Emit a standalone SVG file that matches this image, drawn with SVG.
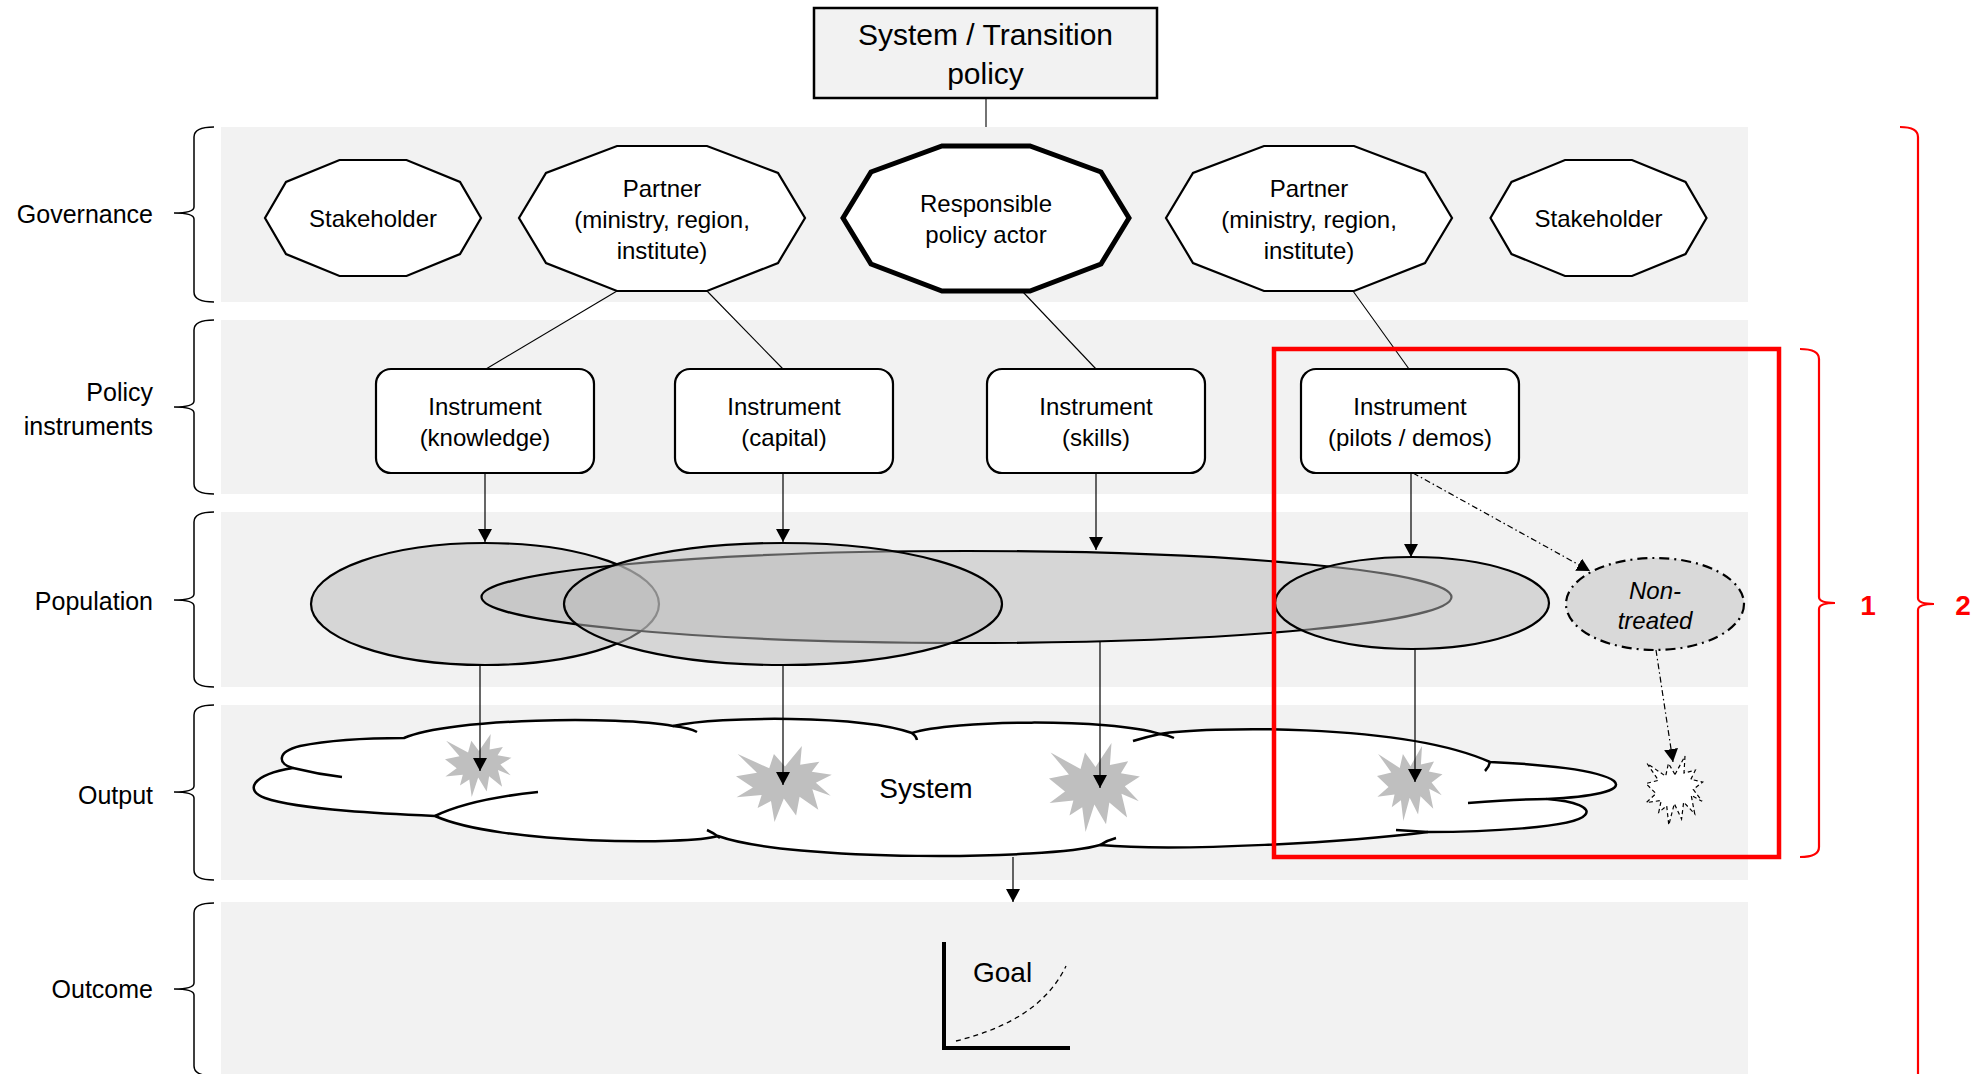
<svg xmlns="http://www.w3.org/2000/svg" width="1977" height="1074" viewBox="0 0 1977 1074">
<style>
text{font-family:"Liberation Sans",Arial,sans-serif;fill:#000}
.lbl{font-size:25px;text-anchor:end}
.nt{font-size:24px;text-anchor:middle}
.band{fill:#f2f2f2}
.brace{fill:none;stroke:#000;stroke-width:1.5}
.rbrace{fill:none;stroke:#ff0000;stroke-width:2.2}
.dec{fill:#fff;stroke:#000;stroke-width:2.2;stroke-linejoin:miter}
.inst{fill:#fff;stroke:#000;stroke-width:2.2}
.pop{fill:#bababa;fill-opacity:0.5;stroke:#000;stroke-width:2.2}
.ln{fill:none;stroke:#000;stroke-width:1.1}
.arr{fill:none;stroke:#000;stroke-width:1.2;marker-end:url(#ah)}
.dd{fill:none;stroke:#000;stroke-width:1.2;stroke-dasharray:6 3 1.5 3;marker-end:url(#ah)}
.burst{fill:#bfbfbf}
.curl{fill:none;stroke:#000;stroke-width:2.5}
.red{font-size:28px;font-weight:bold;fill:#ff0000;text-anchor:middle}
</style>
<defs>
<marker id="ah" markerUnits="userSpaceOnUse" markerWidth="14" markerHeight="14" refX="13" refY="7" orient="auto">
<path d="M0,0 L13,7 L0,14 z" fill="#000"/>
</marker>
<polygon id="burstShape" points="50,26.85 67.2,0 65.5,24.65 85.1,20.6 77.3,33.9 97.7,37.7 81.5,48.5 96.6,65.5 77.9,57 84,83.8 64.9,66.9 61.3,91.4 48.8,69.1 39.3,100 35.7,72.3 22,81.6 26.2,64.5 0.6,67.5 17.2,54.5 0,39.9 21.4,35.3 1.7,10.6 33.9,29.3 38.7,10.6"/>
</defs>

<g id="bands">
<rect class="band" x="221" y="127" width="1527" height="175"/>
<rect class="band" x="221" y="320" width="1527" height="174"/>
<rect class="band" x="221" y="512" width="1527" height="175"/>
<rect class="band" x="221" y="705" width="1527" height="175"/>
<rect class="band" x="221" y="902" width="1527" height="172"/>
</g>

<g id="row-labels">
<text class="lbl" x="153" y="223">Governance</text>
<text class="lbl" x="153" y="401">Policy</text>
<text class="lbl" x="153" y="435">instruments</text>
<text class="lbl" x="153" y="610">Population</text>
<text class="lbl" x="153" y="804">Output</text>
<text class="lbl" x="153" y="998">Outcome</text>
<path class="brace" d="M214,127 Q194,127 194,137 L194,207 Q194,213 174,213 Q194,213 194,219 L194,292 Q194,302 214,302"/>
<path class="brace" d="M214,320 Q194,320 194,330 L194,401 Q194,407 174,407 Q194,407 194,413 L194,484 Q194,494 214,494"/>
<path class="brace" d="M214,512 Q194,512 194,522 L194,594 Q194,600 174,600 Q194,600 194,606 L194,677 Q194,687 214,687"/>
<path class="brace" d="M214,705 Q194,705 194,715 L194,786 Q194,792 174,792 Q194,792 194,798 L194,870 Q194,880 214,880"/>
<path class="brace" d="M214,903 Q194,903 194,913 L194,983 Q194,989 174,989 Q194,989 194,995 L194,1066 Q194,1076 214,1076"/>
</g>

<g id="title">
<rect x="814" y="8" width="343" height="90" fill="#f2f2f2" stroke="#000" stroke-width="2.5"/>
<text x="985.5" y="45" font-size="30" text-anchor="middle">System / Transition</text>
<text x="985.5" y="84" font-size="30" text-anchor="middle">policy</text>
</g>

<g id="stakeholder-left">
<polygon class="dec" points="339.5,160 406.5,160 460,182 481,218 460,254 406.5,276 339.5,276 286,254 265,218 286,182"/>
<text class="nt" x="373" y="226.5">Stakeholder</text>
</g>
<g id="partner-left">
<polygon class="dec" points="617,146 707,146 778,173 805,218 778,263 707,291 617,291 546,263 519,218 546,173"/>
<text class="nt" x="662" y="196.5">Partner</text>
<text class="nt" x="662" y="227.5">(ministry, region,</text>
<text class="nt" x="662" y="258.5">institute)</text>
</g>
<g id="responsible">
<polygon class="dec" style="stroke-width:5" points="942,146 1030,146 1101,172 1129,218 1101,264 1030,291 942,291 871,264 843,218 871,172"/>
<text class="nt" x="986" y="211.5">Responsible</text>
<text class="nt" x="986" y="243">policy actor</text>
</g>
<g id="partner-right">
<polygon class="dec" points="1264,146 1354,146 1425,173 1452,218 1425,263 1354,291 1264,291 1193,263 1166,218 1193,173"/>
<text class="nt" x="1309" y="196.5">Partner</text>
<text class="nt" x="1309" y="227.5">(ministry, region,</text>
<text class="nt" x="1309" y="258.5">institute)</text>
</g>
<g id="stakeholder-right">
<polygon class="dec" points="1565,160 1632,160 1685.5,182 1706.5,218 1685.5,254 1632,276 1565,276 1511.5,254 1490.5,218 1511.5,182"/>
<text class="nt" x="1598.5" y="226.5">Stakeholder</text>
</g>

<g id="instrument-knowledge">
<rect class="inst" x="376" y="369" width="218" height="104" rx="15"/>
<text class="nt" x="485" y="415">Instrument</text>
<text class="nt" x="485" y="446">(knowledge)</text>
</g>
<g id="instrument-capital">
<rect class="inst" x="675" y="369" width="218" height="104" rx="15"/>
<text class="nt" x="784" y="415">Instrument</text>
<text class="nt" x="784" y="446">(capital)</text>
</g>
<g id="instrument-skills">
<rect class="inst" x="987" y="369" width="218" height="104" rx="15"/>
<text class="nt" x="1096" y="415">Instrument</text>
<text class="nt" x="1096" y="446">(skills)</text>
</g>
<g id="instrument-pilots">
<rect class="inst" x="1301" y="369" width="218" height="104" rx="15"/>
<text class="nt" x="1410" y="415">Instrument</text>
<text class="nt" x="1410" y="446">(pilots / demos)</text>
</g>

<g id="population">
<ellipse id="pop-knowledge" class="pop" cx="485" cy="604" rx="174" ry="61"/>
<ellipse id="pop-skills" class="pop" cx="966.5" cy="597" rx="485" ry="46"/>
<ellipse id="pop-capital" class="pop" cx="783" cy="604" rx="219" ry="61"/>
<ellipse id="pop-pilots" class="pop" cx="1412" cy="603" rx="137" ry="46"/>
</g>
<g id="non-treated">
<ellipse cx="1655" cy="604" rx="89" ry="46" fill="#d9d9d9" stroke="#000" stroke-width="2.2" stroke-dasharray="10 5 2 5"/>
<text x="1655" y="599" font-size="24" font-style="italic" text-anchor="middle">Non-</text>
<text x="1655" y="629" font-size="24" font-style="italic" text-anchor="middle">treated</text>
</g>

<g id="system">
<path fill="#fff" stroke="#000" stroke-width="2.5" stroke-linejoin="round" d="M293,768 C278,764 276,752 300,746 C330,740 370,738 404,738 C450,718 620,716 673,726 C720,716 860,715 912,733 C950,720 1110,718 1160,734 C1200,727 1400,722 1490,762 C1540,764 1600,770 1614,781 C1625,791 1590,797 1547,799 C1575,801 1592,808 1585,815 C1575,828 1480,832 1428,832 C1350,842 1180,852 1100,845 C1050,860 790,862 718,836 C690,845 500,845 435,816 C390,814 300,810 265,798 C245,791 250,775 293,768 Z"/>
<path class="curl" d="M342,777 C325,775 305,771 293,768"/>
<path class="curl" d="M538,792 C500,796 460,804 435,816"/>
<path class="curl" d="M673,726 Q690,728 697,732"/>
<path class="curl" d="M912,733 Q916,736 917,740"/>
<path class="curl" d="M1133,741 Q1146,737 1160,734"/>
<path class="curl" d="M1160,734 Q1168,735 1174,738"/>
<path class="curl" d="M1490,762 Q1489,767 1485,771"/>
<path class="curl" d="M1468,803 C1495,801 1525,799 1547,799"/>
<path class="curl" d="M1396,830 L1428,832"/>
<path class="curl" d="M1100,845 Q1108,840 1116,838"/>
<path class="curl" d="M707,830 Q714,833 720,838"/>
<text x="926" y="798" font-size="28" text-anchor="middle">System</text>
</g>

<g id="effects">
<use href="#burstShape" class="burst" transform="translate(445,734) scale(0.68,0.63)"/>
<use href="#burstShape" class="burst" transform="translate(736,746) scale(0.98,0.76)"/>
<use href="#burstShape" class="burst" transform="translate(1049,743) scale(0.93,0.89)"/>
<use href="#burstShape" class="burst" transform="translate(1377,746) scale(0.67,0.75)"/>
<polygon points="50,26.85 67.2,0 65.5,24.65 85.1,20.6 77.3,33.9 97.7,37.7 81.5,48.5 96.6,65.5 77.9,57 84,83.8 64.9,66.9 61.3,91.4 48.8,69.1 39.3,100 35.7,72.3 22,81.6 26.2,64.5 0.6,67.5 17.2,54.5 0,39.9 21.4,35.3 1.7,10.6 33.9,29.3 38.7,10.6" transform="translate(1646,756) scale(0.58,0.69)" fill="#fff" stroke="#000" stroke-width="1.2" stroke-dasharray="4 3" vector-effect="non-scaling-stroke"/>
</g>

<g id="outcome">
<path d="M944,942 L944,1048 L1070,1048" fill="none" stroke="#000" stroke-width="4"/>
<path d="M956,1041 C1000,1030 1045,1010 1066,966" fill="none" stroke="#000" stroke-width="1.3" stroke-dasharray="5 4"/>
<text x="973" y="982" font-size="28">Goal</text>
</g>

<g id="connectors">
<path class="ln" d="M986,99 L986,127"/>
<path class="ln" d="M617,291 L486,369"/>
<path class="ln" d="M707,291 L783,369"/>
<path class="ln" d="M1023,292 L1096,369"/>
<path class="ln" d="M1353,291 L1409,369"/>
<path class="arr" d="M485,473 L485,542"/>
<path class="arr" d="M783,473 L783,542"/>
<path class="arr" d="M1096,473 L1096,550"/>
<path class="arr" d="M1411,473 L1411,557"/>
<path class="dd" d="M1413,473 L1590,571"/>
<path class="arr" d="M480,665 L480,771"/>
<path class="arr" d="M783,665 L783,785"/>
<path class="arr" d="M1100,642 L1100,788"/>
<path class="arr" d="M1415,649 L1415,782"/>
<path class="dd" d="M1656,650 L1673,762"/>
<path class="arr" d="M1013,857 L1013,902"/>
</g>

<g id="scope">
<rect x="1274" y="349" width="505" height="508" fill="none" stroke="#ff0000" stroke-width="4.5"/>
<path class="rbrace" d="M1800,349 Q1819,349 1819,359 L1819,597 Q1819,603 1835,603 Q1819,603 1819,609 L1819,847 Q1819,857 1800,857"/>
<text class="red" x="1868" y="615">1</text>
<path class="rbrace" d="M1900,127 Q1918,127 1918,137 L1918,598 Q1918,604 1934,604 Q1918,604 1918,610 L1918,1074"/>
<text class="red" x="1963" y="615">2</text>
</g>
</svg>
